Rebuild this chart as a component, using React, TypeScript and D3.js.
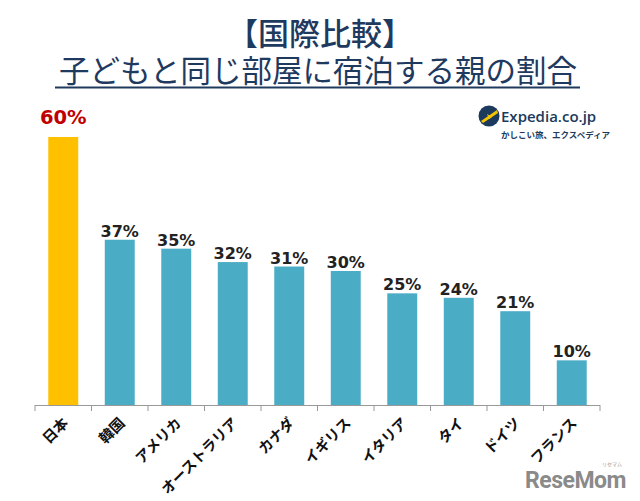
import React from "react";
import * as d3 from "d3";

const categories = ["日本", "韓国", "アメリカ", "オーストラリア", "カナダ", "イギリス", "イタリア", "タイ", "ドイツ", "フランス"];
const values = [60, 37, 35, 32, 31, 30, 25, 24, 21, 10];
const highlight = ["日本"];
const titleLine1 = "【国際比較】";
const titleLine2 = "子どもと同じ部屋に宿泊する親の割合";

const W = 640;
const H = 501;
const JP = "'Noto Sans CJK JP', 'Noto Sans', sans-serif";

export default function App() {
  const x = d3.scaleBand<string>().domain(categories).range([35, 600]).paddingInner(0.47).paddingOuter(0.235);
  const y = d3.scaleLinear().domain([0, 60]).range([405, 137]);
  const axisX0 = 35;
  const axisX1 = 600;
  const stepEdges = categories.map((c) => (x(c) as number) - (x.step() - x.bandwidth()) / 2);
  stepEdges.push(axisX1);

  return (
    <svg width={W} height={H} style={{ position: "absolute", left: 0, top: 0, background: "#fff" }}>
      <rect x={0} y={0} width={W} height={H} fill="#fff" />
      <text x={320} y={45} textAnchor="middle" fontFamily={JP} fontSize={31} fill="#1f3a5f" fontWeight={500}>
        {titleLine1}
      </text>
      <text x={318} y={82} textAnchor="middle" fontFamily={JP} fontSize={30.5} fill="#1f3a5f" fontWeight={400}>
        {titleLine2}
      </text>
      <line x1={55} x2={580} y1={87.5} y2={87.5} stroke="#1f3a5f" strokeWidth={2} />

      {/* Expedia logo */}
      <g>
        <circle cx={489} cy={116} r={10.5} fill="#1b3a5c" />
        <path d="M481,121 L497,110 L498,113 L483,123 Z" fill="#f5c400" />
        <path d="M487,114 L492,117 L489,119 Z" fill="#f5c400" />
        <text x={501} y={122} fontFamily="'Open Sans', 'DejaVu Sans', sans-serif" fontSize={15} fontWeight={600} fill="#1b3a5c">
          Expedia.co.jp
        </text>
        <text x={501} y={138} fontFamily={JP} fontSize={8.5} fontWeight={700} fill="#1b3a5c">
          かしこい旅、エクスペディア
        </text>
      </g>

      {/* bars */}
      {categories.map((c, i) => (
        <rect
          key={c}
          x={x(c)}
          y={y(values[i])}
          width={x.bandwidth()}
          height={y(0) - y(values[i])}
          fill={highlight.includes(c) ? "#ffc000" : "#4bacc6"}
        />
      ))}

      {/* value labels */}
      {categories.map((c, i) => {
        const hl = highlight.includes(c);
        return (
          <text
            key={"v" + c}
            x={(x(c) as number) + x.bandwidth() / 2}
            y={hl ? y(values[i]) - 13 : y(values[i]) - 3}
            textAnchor="middle"
            fontFamily="'DejaVu Sans', Verdana, sans-serif"
            fontWeight="bold"
            fontSize={hl ? 19.5 : 16}
            fill={hl ? "#c00000" : "#222"}
          >
            {values[i]}%
          </text>
        );
      })}

      {/* axis */}
      <line x1={axisX0} x2={axisX1} y1={405.5} y2={405.5} stroke="#999" strokeWidth={1} />
      {stepEdges.map((e, i) => (
        <line key={"t" + i} x1={e} x2={e} y1={405} y2={411} stroke="#999" strokeWidth={1} />
      ))}

      {/* category labels */}
      {categories.map((c) => {
        const cx = (x(c) as number) + x.bandwidth() / 2 + 6;
        return (
          <text
            key={"c" + c}
            transform={`translate(${cx},424) rotate(-45)`}
            textAnchor="end"
            fontFamily={JP}
            fontSize={14.5}
            fontWeight={700}
            fill="#111"
          >
            {c}
          </text>
        );
      })}

      {/* watermark */}
      <text x={622} y={466} textAnchor="end" fontFamily={JP} fontSize={5} fill="#999">
        リセマム
      </text>
      <text x={626} y={488} textAnchor="end" fontFamily="'Roboto', 'DejaVu Sans', sans-serif" fontSize={23} fontWeight="bold" fill="#8a8a8a" letterSpacing={-0.5}>
        ReseMom
      </text>
    </svg>
  );
}
